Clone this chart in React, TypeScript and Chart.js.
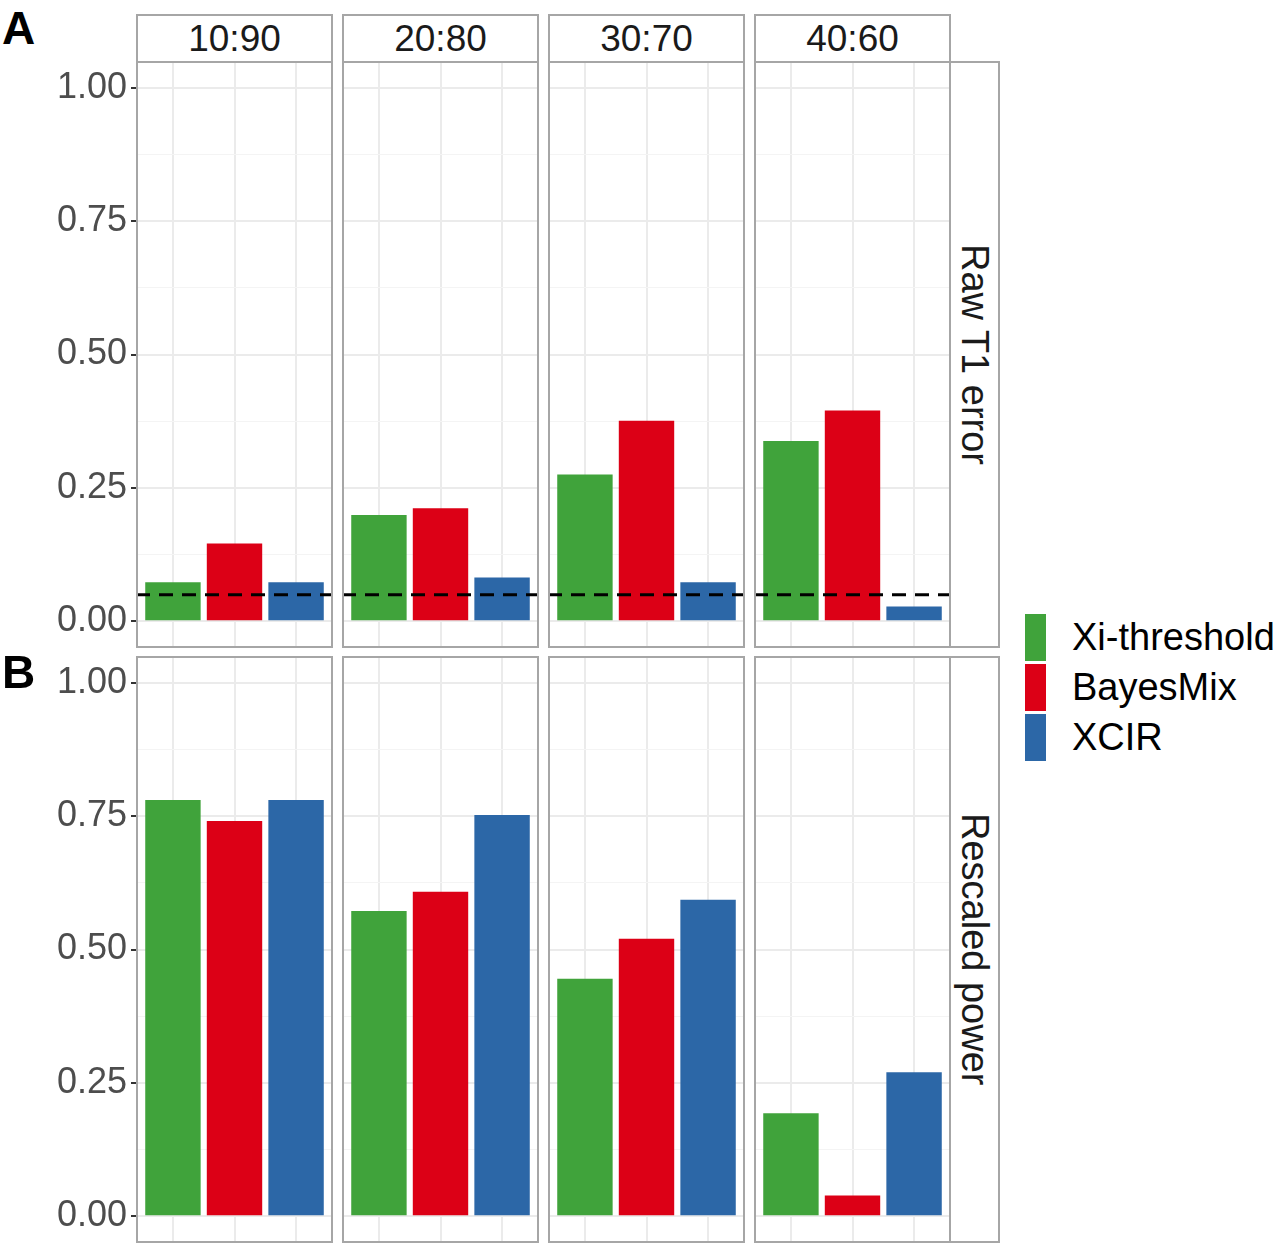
import { useEffect, useRef } from "react";
import { Chart, registerables } from "chart.js";

Chart.register(...registerables);

const ratios = ["10:90", "20:80", "30:70", "40:60"];
const methods = ["Xi-threshold", "BayesMix", "XCIR"];
const methodColors = ["#40A33B", "#DC0016", "#2C67A7"];
const rowLabels = ["Raw T1 error", "Rescaled power"];
const panelTags = ["A", "B"];

// raw type-1 error per ratio
const t1Xi = [0.073, 0.199, 0.275, 0.338];
const t1Bayes = [0.146, 0.212, 0.376, 0.395];
const t1Xcir = [0.073, 0.082, 0.073, 0.028];

// rescaled power per ratio
const powXi = [0.78, 0.572, 0.445, 0.193];
const powBayes = [0.741, 0.608, 0.52, 0.039];
const powXcir = [0.78, 0.752, 0.593, 0.27];

const majorTicks = [0, 0.25, 0.5, 0.75, 1];
const minorTicks = [0.125, 0.375, 0.625, 0.875];
const alphaLevel = 0.05;

const rows = [
  [t1Xi, t1Bayes, t1Xcir],
  [powXi, powBayes, powXcir],
];

const colLeft = [136, 342, 548, 754];
const panelW = 197;
const rowTop = [61, 656];
const panelH = 587;
const yAxisW = 136;
const border = "#A6A6A6";
const font = "'Liberation Sans', Arial, Helvetica, sans-serif";

Chart.defaults.font.family = font;

const isMajor = (v: number) => majorTicks.some((m) => Math.abs(m - v) < 1e-9);

const framePlugin = {
  id: "panelFrame",
  afterDraw(chart: any) {
    const { ctx, chartArea } = chart;
    ctx.save();
    ctx.strokeStyle = border;
    ctx.lineWidth = 2;
    ctx.strokeRect(chartArea.left + 1, chartArea.top + 1, chartArea.width - 2, chartArea.height - 2);
    ctx.restore();
  },
};

function Panel({ row, col }: { row: number; col: number }) {
  const chartRef = useRef<HTMLCanvasElement | null>(null);
  useEffect(() => {
    const ctx = chartRef.current?.getContext("2d");
    if (!ctx) return;
    const showY = col === 0;
    const values = rows[row].map((series) => series[col]);

    const alphaPlugin = {
      id: "alphaLine",
      afterDatasetsDraw(chart: any) {
        if (row !== 0) return;
        const { ctx, chartArea, scales } = chart;
        const y = scales.y.getPixelForValue(alphaLevel);
        ctx.save();
        ctx.strokeStyle = "#000";
        ctx.lineWidth = 3;
        ctx.setLineDash([14, 9]);
        ctx.beginPath();
        ctx.moveTo(chartArea.left, y);
        ctx.lineTo(chartArea.right, y);
        ctx.stroke();
        ctx.restore();
      },
    };

    const chart = new Chart(ctx, {
      type: "bar",
      data: {
        datasets: [
          {
            data: values.map((v, i) => ({ x: i + 1, y: v })),
            backgroundColor: methodColors,
            borderWidth: 0,
            barPercentage: 0.9,
            categoryPercentage: 1,
          },
        ],
      },
      options: {
        animation: false,
        responsive: true,
        maintainAspectRatio: false,
        events: [],
        layout: { padding: 0 },
        plugins: {
          legend: { display: false },
          tooltip: { enabled: false },
        },
        scales: {
          x: {
            type: "linear",
            min: 0.4,
            max: 3.6,
            offset: false,
            afterBuildTicks: (s: any) => {
              s.ticks = [1, 2, 3].map((value) => ({ value }));
            },
            afterFit: (s: any) => {
              s.height = 0;
              s.paddingLeft = 0;
              s.paddingRight = 0;
            },
            ticks: { display: false },
            grid: { color: "#EBEBEB", lineWidth: 2, drawTicks: false, offset: false },
            border: { display: false },
          },
          y: {
            min: -0.05,
            max: 1.05,
            afterBuildTicks: (s: any) => {
              s.ticks = [...majorTicks, ...minorTicks].sort((a, b) => a - b).map((value) => ({ value }));
            },
            afterFit: (s: any) => {
              s.width = showY ? yAxisW : 0;
              s.paddingTop = 0;
              s.paddingBottom = 0;
            },
            ticks: {
              display: showY,
              padding: 4,
              color: "#4D4D4D",
              font: { size: 36 },
              callback: (v: any) => (isMajor(Number(v)) ? Number(v).toFixed(2) : ""),
            },
            grid: {
              color: (c: any) => (isMajor(c.tick.value) ? "#EBEBEB" : "#F4F4F4"),
              lineWidth: (c: any) => (isMajor(c.tick.value) ? 2 : 1),
              drawTicks: showY,
              tickLength: 5,
              tickWidth: 2,
              tickColor: (c: any) => (isMajor(c.tick.value) ? "#333333" : "rgba(0,0,0,0)"),
            },
            border: { display: false },
          },
        },
      },
      plugins: [alphaPlugin, framePlugin],
    });
    return () => chart.destroy();
  }, [row, col]);

  const left = col === 0 ? 0 : colLeft[col];
  const width = col === 0 ? colLeft[0] + panelW : panelW;
  return (
    <div style={{ position: "absolute", left, top: rowTop[row], width, height: panelH }}>
      <canvas ref={chartRef}></canvas>
    </div>
  );
}

export default function App() {
  return (
    <div
      style={{
        position: "absolute",
        left: 0,
        top: 0,
        width: 1280,
        height: 1248,
        background: "#fff",
        fontFamily: font,
        overflow: "hidden",
      }}
    >
      {ratios.map((r, c) => (
        <div
          key={r}
          style={{
            position: "absolute",
            left: colLeft[c],
            top: 14,
            width: panelW,
            height: 49,
            border: `2px solid ${border}`,
            boxSizing: "border-box",
            display: "flex",
            alignItems: "center",
            justifyContent: "center",
            fontSize: 37,
            color: "#1A1A1A",
          }}
        >
          {r}
        </div>
      ))}
      {rowLabels.map((label, r) => (
        <div
          key={label}
          style={{
            position: "absolute",
            left: colLeft[3] + panelW - 2,
            top: rowTop[r],
            width: 51,
            height: panelH,
            border: `2px solid ${border}`,
            boxSizing: "border-box",
            display: "flex",
            alignItems: "center",
            justifyContent: "center",
            writingMode: "vertical-rl",
            fontSize: 38,
            color: "#1A1A1A",
          }}
        >
          {label}
        </div>
      ))}
      {rows.map((_, r) => ratios.map((ratio, c) => <Panel key={`${r}-${ratio}`} row={r} col={c} />))}
      {panelTags.map((tag, r) => (
        <div
          key={tag}
          style={{
            position: "absolute",
            left: 2,
            top: r === 0 ? 2 : 646,
            fontSize: 46,
            fontWeight: "bold",
            color: "#000",
            lineHeight: "52px",
          }}
        >
          {tag}
        </div>
      ))}
      <div style={{ position: "absolute", left: 1025, top: 612 }}>
        {methods.map((m, i) => (
          <div key={m} style={{ display: "flex", alignItems: "center", height: 50 }}>
            <div style={{ width: 21, height: 47, background: methodColors[i], marginRight: 26 }} />
            <div style={{ fontSize: 38, color: "#000", whiteSpace: "nowrap" }}>{m}</div>
          </div>
        ))}
      </div>
    </div>
  );
}
